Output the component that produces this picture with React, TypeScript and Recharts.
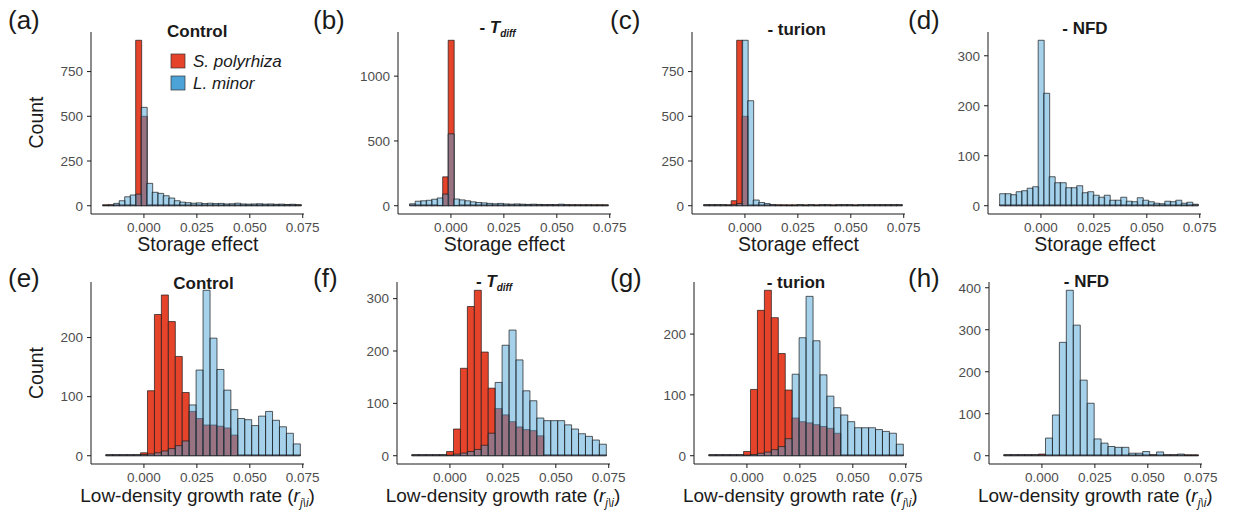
import React from 'react';
import { BarChart, Bar, XAxis, YAxis } from 'recharts';

const FONT = '"Liberation Sans", Arial, Helvetica, sans-serif';
const RED = '#E6432B';
const BLUE = '#4CA3D8';
const INK = '#1a1a1a';
const TICK_GREY = '#4d4d4d';

const X_DOMAIN: [number, number] = [-0.025, 0.0756];
const X_TICKS = [0, 0.025, 0.05, 0.075];

// bin centres (top row: storage effect, bottom row: low-density growth rate)
const TOP_BINS = [
  -0.0182, -0.0156, -0.013, -0.0104, -0.0078, -0.0052, -0.0026, 0.0, 0.0026, 0.0052,
  0.0078, 0.0104, 0.013, 0.0156, 0.0182, 0.0208, 0.0234, 0.026, 0.0286, 0.0312,
  0.0338, 0.0364, 0.039, 0.0416, 0.0442, 0.0468, 0.0494, 0.052, 0.0546, 0.0572,
  0.0598, 0.0624, 0.065, 0.0676, 0.0702, 0.0728,
];
const BOTTOM_BINS = [
  -0.01636, -0.01308, -0.0098, -0.00652, -0.00324, 0.00004, 0.00332, 0.0066, 0.00988, 0.01316,
  0.01644, 0.01972, 0.023, 0.02628, 0.02956, 0.03284, 0.03612, 0.0394, 0.04268, 0.04596,
  0.04924, 0.05252, 0.0558, 0.05908, 0.06236, 0.06564, 0.06892, 0.0722,
];

// (a) Control - storage effect
const A_SP = [0, 0, 0, 0, 0, 0, 925, 500, 0, 0, 0, 0, 0, 0, 0, 0, 0, 0, 0, 0, 0, 0, 0, 0, 0, 0, 0, 0, 0, 0, 0, 0, 0, 0, 0, 0];
const A_LM = [2, 4, 13, 28, 50, 60, 65, 550, 125, 75, 69, 56, 43, 28, 20, 17, 14, 16, 12, 14, 12, 13, 10, 11, 14, 10, 9, 10, 11, 9, 10, 8, 9, 7, 8, 5];
// (b) - Tdiff
const B_SP = [0, 0, 0, 0, 0, 3, 223, 1277, 3, 0, 0, 0, 0, 0, 0, 0, 0, 0, 0, 0, 0, 0, 0, 0, 0, 0, 0, 0, 0, 0, 0, 0, 0, 0, 0, 0];
const B_LM = [15, 35, 38, 42, 50, 60, 90, 555, 52, 45, 38, 30, 25, 22, 18, 15, 18, 14, 12, 14, 12, 10, 12, 10, 8, 9, 7, 12, 8, 6, 6, 5, 6, 4, 5, 4];
// (c) - turion
const C_SP = [0, 0, 0, 0, 0, 28, 925, 500, 0, 0, 0, 0, 0, 0, 0, 0, 0, 0, 0, 0, 0, 0, 0, 0, 0, 0, 0, 0, 0, 0, 0, 0, 0, 0, 0, 0];
const C_LM = [0, 0, 0, 0, 3, 6, 12, 925, 587, 32, 18, 12, 6, 3, 2, 1, 1, 0, 1, 0, 1, 0, 0, 1, 0, 0, 0, 1, 0, 0, 0, 0, 0, 0, 0, 0];
// (d) - NFD
const D_SP = [0, 0, 0, 0, 0, 0, 0, 0, 0, 0, 0, 0, 0, 0, 0, 0, 0, 0, 0, 0, 0, 0, 0, 0, 0, 0, 0, 0, 0, 0, 0, 0, 0, 0, 0, 0];
const D_LM = [24, 24, 22, 28, 30, 35, 38, 331, 225, 58, 46, 46, 36, 36, 40, 26, 28, 21, 17, 21, 11, 11, 17, 9, 8, 16, 11, 8, 5, 4, 9, 8, 11, 5, 7, 3];

// (e) Control - growth rate
const E_SP = [0, 0, 0, 0, 0, 5, 110, 239, 272, 227, 168, 107, 75, 63, 52, 52, 50, 47, 35, 0, 0, 0, 0, 0, 0, 0, 0, 0];
const E_LM = [0, 0, 0, 0, 0, 2, 3, 5, 8, 12, 17, 25, 86, 145, 280, 199, 146, 111, 78, 63, 61, 51, 67, 75, 60, 49, 38, 20];
// (f) - Tdiff
const F_SP = [0, 0, 0, 0, 0, 8, 51, 167, 285, 316, 198, 129, 90, 78, 65, 55, 50, 48, 38, 0, 0, 0, 0, 0, 0, 0, 0, 0];
const F_LM = [0, 0, 0, 0, 0, 1, 3, 5, 8, 12, 20, 43, 140, 211, 240, 183, 124, 105, 72, 67, 67, 67, 59, 51, 42, 37, 30, 22];
// (g) - turion
const G_SP = [0, 0, 0, 0, 0, 7, 109, 239, 272, 227, 168, 108, 62, 56, 54, 51, 48, 45, 37, 0, 0, 0, 0, 0, 0, 0, 0, 0];
const G_LM = [0, 0, 0, 0, 0, 1, 2, 4, 6, 10, 15, 28, 134, 194, 262, 189, 133, 98, 79, 67, 56, 46, 46, 46, 43, 40, 37, 19];
// (h) - NFD
const H_SP = [0, 0, 0, 0, 0, 4, 0, 0, 0, 0, 0, 0, 0, 0, 0, 0, 0, 0, 0, 0, 0, 0, 0, 0, 0, 0, 0, 0];
const H_LM = [0, 0, 0, 0, 0, 2, 42, 97, 270, 394, 311, 180, 125, 40, 30, 22, 20, 20, 6, 6, 10, 2, 9, 2, 2, 4, 1, 1];

const A_YTICKS = [0, 250, 500, 750];
const B_YTICKS = [0, 500, 1000];
const C_YTICKS = [0, 250, 500, 750];
const D_YTICKS = [0, 100, 200, 300];
const E_YTICKS = [0, 100, 200];
const F_YTICKS = [0, 100, 200, 300];
const G_YTICKS = [0, 100, 200];
const H_YTICKS = [0, 100, 200, 300, 400];

const PLOT_W = 213;
const PLOT_H = 182;
const AXIS_W = 60;
const PAD_T = 6;
const PAD_R = 24;
const AXIS_H = 40;

const zeroLine = (v: any) => (v === 0 ? 1 : 0);

type PanelProps = {
  bins: number[];
  sp: number[];
  lm: number[];
  yTicks: number[];
  plotLeft: number;
  plotTop: number;
};

function Panel({ bins, sp, lm, yTicks, plotLeft, plotTop }: PanelProps) {
  const data = bins.map((x, i) => ({ x, sp: sp[i], lm: lm[i] }));
  const maxV = Math.max(...sp, ...lm);
  const yDomain = [-0.05 * maxV, 1.05 * maxV];
  const tickStyle = { fontSize: 13.5, fill: TICK_GREY, fontFamily: FONT };
  return (
    <div style={{ position: 'absolute', left: plotLeft - AXIS_W, top: plotTop - PAD_T }}>
      <BarChart
        width={AXIS_W + PLOT_W + PAD_R}
        height={PAD_T + PLOT_H + AXIS_H}
        data={data}
        margin={{ top: PAD_T, right: PAD_R, bottom: 0, left: 0 }}
        barCategoryGap={0}
        barGap={0}
      >
        <XAxis
          xAxisId="a"
          dataKey="x"
          type="number"
          domain={X_DOMAIN}
          ticks={X_TICKS}
          allowDataOverflow
          interval={0}
          height={AXIS_H}
          tickSize={4}
          tickMargin={4}
          tickFormatter={(v: number) => v.toFixed(3)}
          axisLine={{ stroke: INK, strokeWidth: 1 }}
          tickLine={{ stroke: INK, strokeWidth: 1 }}
          tick={tickStyle}
        />
        <XAxis
          xAxisId="b"
          dataKey="x"
          type="number"
          orientation="top"
          height={0}
          domain={X_DOMAIN}
          allowDataOverflow
          hide
        />
        <YAxis
          type="number"
          domain={yDomain}
          ticks={yTicks}
          allowDataOverflow
          interval={0}
          width={AXIS_W}
          tickSize={4}
          tickMargin={4}
          axisLine={{ stroke: INK, strokeWidth: 1 }}
          tickLine={{ stroke: INK, strokeWidth: 1 }}
          tick={tickStyle}
        />
        <Bar
          xAxisId="a"
          dataKey="sp"
          fill={RED}
          stroke={INK}
          strokeWidth={0.7}
          minPointSize={zeroLine}
          isAnimationActive={false}
        />
        <Bar
          xAxisId="b"
          dataKey="lm"
          fill={BLUE}
          fillOpacity={0.5}
          stroke={INK}
          strokeWidth={0.7}
          minPointSize={zeroLine}
          isAnimationActive={false}
        />
      </BarChart>
    </div>
  );
}

const TOP = 31.5;
const BOTTOM = 282;

const PANELS: PanelProps[] = [
  { bins: TOP_BINS, sp: A_SP, lm: A_LM, yTicks: A_YTICKS, plotLeft: 91.4, plotTop: TOP },
  { bins: TOP_BINS, sp: B_SP, lm: B_LM, yTicks: B_YTICKS, plotLeft: 397.8, plotTop: TOP },
  { bins: TOP_BINS, sp: C_SP, lm: C_LM, yTicks: C_YTICKS, plotLeft: 692, plotTop: TOP },
  { bins: TOP_BINS, sp: D_SP, lm: D_LM, yTicks: D_YTICKS, plotLeft: 988.3, plotTop: TOP },
  { bins: BOTTOM_BINS, sp: E_SP, lm: E_LM, yTicks: E_YTICKS, plotLeft: 91.1, plotTop: BOTTOM },
  { bins: BOTTOM_BINS, sp: F_SP, lm: F_LM, yTicks: F_YTICKS, plotLeft: 396.5, plotTop: BOTTOM },
  { bins: BOTTOM_BINS, sp: G_SP, lm: G_LM, yTicks: G_YTICKS, plotLeft: 693.8, plotTop: BOTTOM },
  { bins: BOTTOM_BINS, sp: H_SP, lm: H_LM, yTicks: H_YTICKS, plotLeft: 988.8, plotTop: BOTTOM },
];

const PANEL_LABELS = ['(a)', '(b)', '(c)', '(d)', '(e)', '(f)', '(g)', '(h)'];
const LABEL_X = [8, 313, 610, 908, 8, 313, 610, 908];

function TdiffTitle({ x, y }: { x: number; y: number }) {
  return (
    <text x={x} y={y} textAnchor="middle" fontSize={17} fontWeight="bold" fill={INK}>
      {'- '}
      <tspan fontStyle="italic">T</tspan>
      <tspan fontStyle="italic" fontSize={10} dy={4}>diff</tspan>
    </text>
  );
}

function GrowthTitle({ x, y }: { x: number; y: number }) {
  return (
    <text x={x} y={y} textAnchor="middle" fontSize={19} fill={INK}>
      {'Low-density growth rate ('}
      <tspan fontStyle="italic">r</tspan>
      <tspan fontStyle="italic" fontSize={12} dy={5}>{'j\\i'}</tspan>
      <tspan dy={-5}>)</tspan>
    </text>
  );
}

export default function App() {
  return (
    <div
      style={{
        position: 'absolute',
        left: 0,
        top: 0,
        width: 1233,
        height: 520,
        background: '#ffffff',
        overflow: 'hidden',
        fontFamily: FONT,
      }}
    >
      {PANELS.map((p, i) => (
        <Panel key={i} {...p} />
      ))}
      <svg
        width={1233}
        height={520}
        style={{ position: 'absolute', left: 0, top: 0, pointerEvents: 'none' }}
        fontFamily={FONT}
      >
        {PANEL_LABELS.map((lab, i) => (
          <text key={lab} x={LABEL_X[i]} y={i < 4 ? 29 : 287} fontSize={26} fill={INK}>
            {lab}
          </text>
        ))}

        {/* legend in (a) */}
        <text x={167} y={37} fontSize={17} fontWeight="bold" fill={INK}>Control</text>
        <rect x={171} y={54} width={14} height={14} fill={RED} stroke="#333" strokeWidth={0.7} />
        <rect x={171} y={76} width={14} height={14} fill={BLUE} stroke="#333" strokeWidth={0.7} />
        <text x={193} y={67} fontSize={17} fontStyle="italic" fill={INK}>S. polyrhiza</text>
        <text x={193} y={89} fontSize={17} fontStyle="italic" fill={INK}>L. minor</text>

        {/* top row titles */}
        <TdiffTitle x={497.5} y={33} />
        <text x={796.7} y={35} textAnchor="middle" fontSize={17} fontWeight="bold" fill={INK}>- turion</text>
        <text x={1085} y={34} textAnchor="middle" fontSize={17} fontWeight="bold" fill={INK}>- NFD</text>

        {/* bottom row titles */}
        <text x={203.5} y={289} textAnchor="middle" fontSize={17} fontWeight="bold" fill={INK}>Control</text>
        <TdiffTitle x={494} y={287} />
        <text x={796} y={288} textAnchor="middle" fontSize={17} fontWeight="bold" fill={INK}>- turion</text>
        <text x={1086.5} y={287} textAnchor="middle" fontSize={17} fontWeight="bold" fill={INK}>- NFD</text>

        {/* y axis titles */}
        <text transform="translate(43,122.5) rotate(-90)" textAnchor="middle" fontSize={19.5} fill={INK}>Count</text>
        <text transform="translate(43,373) rotate(-90)" textAnchor="middle" fontSize={19.5} fill={INK}>Count</text>

        {/* x axis titles */}
        {PANELS.slice(0, 4).map((p, i) => (
          <text key={'se' + i} x={p.plotLeft + PLOT_W / 2} y={251} textAnchor="middle" fontSize={19.5} fill={INK}>
            Storage effect
          </text>
        ))}
        {PANELS.slice(4).map((p, i) => (
          <GrowthTitle key={'gr' + i} x={p.plotLeft + PLOT_W / 2} y={502} />
        ))}
      </svg>
    </div>
  );
}
